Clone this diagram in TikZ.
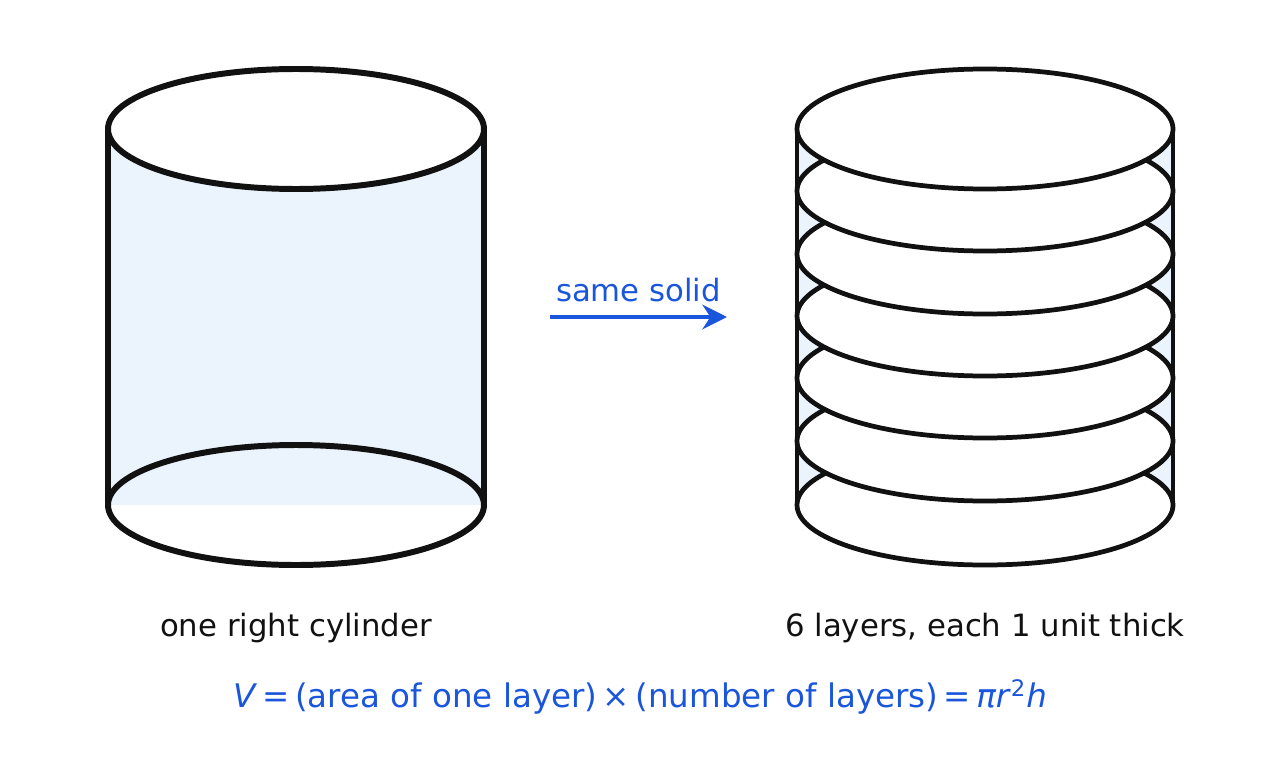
\documentclass[tikz,border=0pt]{standalone}
\usepackage{fontspec}
\setmainfont{DejaVu Sans}
\usetikzlibrary{arrows.meta,positioning}
\definecolor{solidblue}{HTML}{1A56DB}
\definecolor{bodyfill}{HTML}{EBF3FD}
\definecolor{ink}{HTML}{111111}

\begin{document}
\begin{tikzpicture}[x=0.02cm, y=-0.02cm,
  thick line/.style={draw=ink, line width=3.4pt},
  thin line/.style={draw=ink, line width=2.7pt},
  lbl/.style={font=\fontsize{17.5}{20}\selectfont, text=ink},
  >=Stealth
]
  \useasboundingbox (0,0) rectangle (1280,767);
  % left cylinder
  \fill[bodyfill] (108,129) rectangle (484,505);
  \draw[thick line] (296,505) ellipse [x radius=188, y radius=60];
  \draw[thick line] (108,129) -- (108,505) (484,129) -- (484,505);
  \draw[thick line, fill=white] (296,129) ellipse [x radius=188, y radius=60];
  % right cylinder, stacked layers
  \fill[bodyfill] (797,129) rectangle (1173,505);
  \draw[thin line] (797,129) -- (797,505) (1173,129) -- (1173,505);
  \foreach \y in {505,441,378,316,254,191,129}
    \draw[thin line, fill=white] (985,\y) ellipse [x radius=188, y radius=60];
  % arrow
  \coordinate (from) at (550,317);
  \coordinate (to) at (727,317);
  \draw[solidblue, line width=2.8pt, -{Stealth[length=14pt, width=14pt]}] (from) -- (to)
    node[midway, above=4pt, font=\fontsize{17.5}{20}\selectfont, text=solidblue] {same solid};
  % labels
  \node[lbl] (left) at (296,628) {one right cylinder};
  \node[lbl] (right) at (985,628) {6 layers, each 1 unit thick};
  \node[font=\fontsize{18.5}{22}\selectfont, text=solidblue] (formula) at (640,697)
    {\textit{V}\,=\,(area of one layer)\,×\,(number of layers)\,=\,\textit{πr}\textsuperscript{2}\textit{h}};
\end{tikzpicture}
\end{document}
